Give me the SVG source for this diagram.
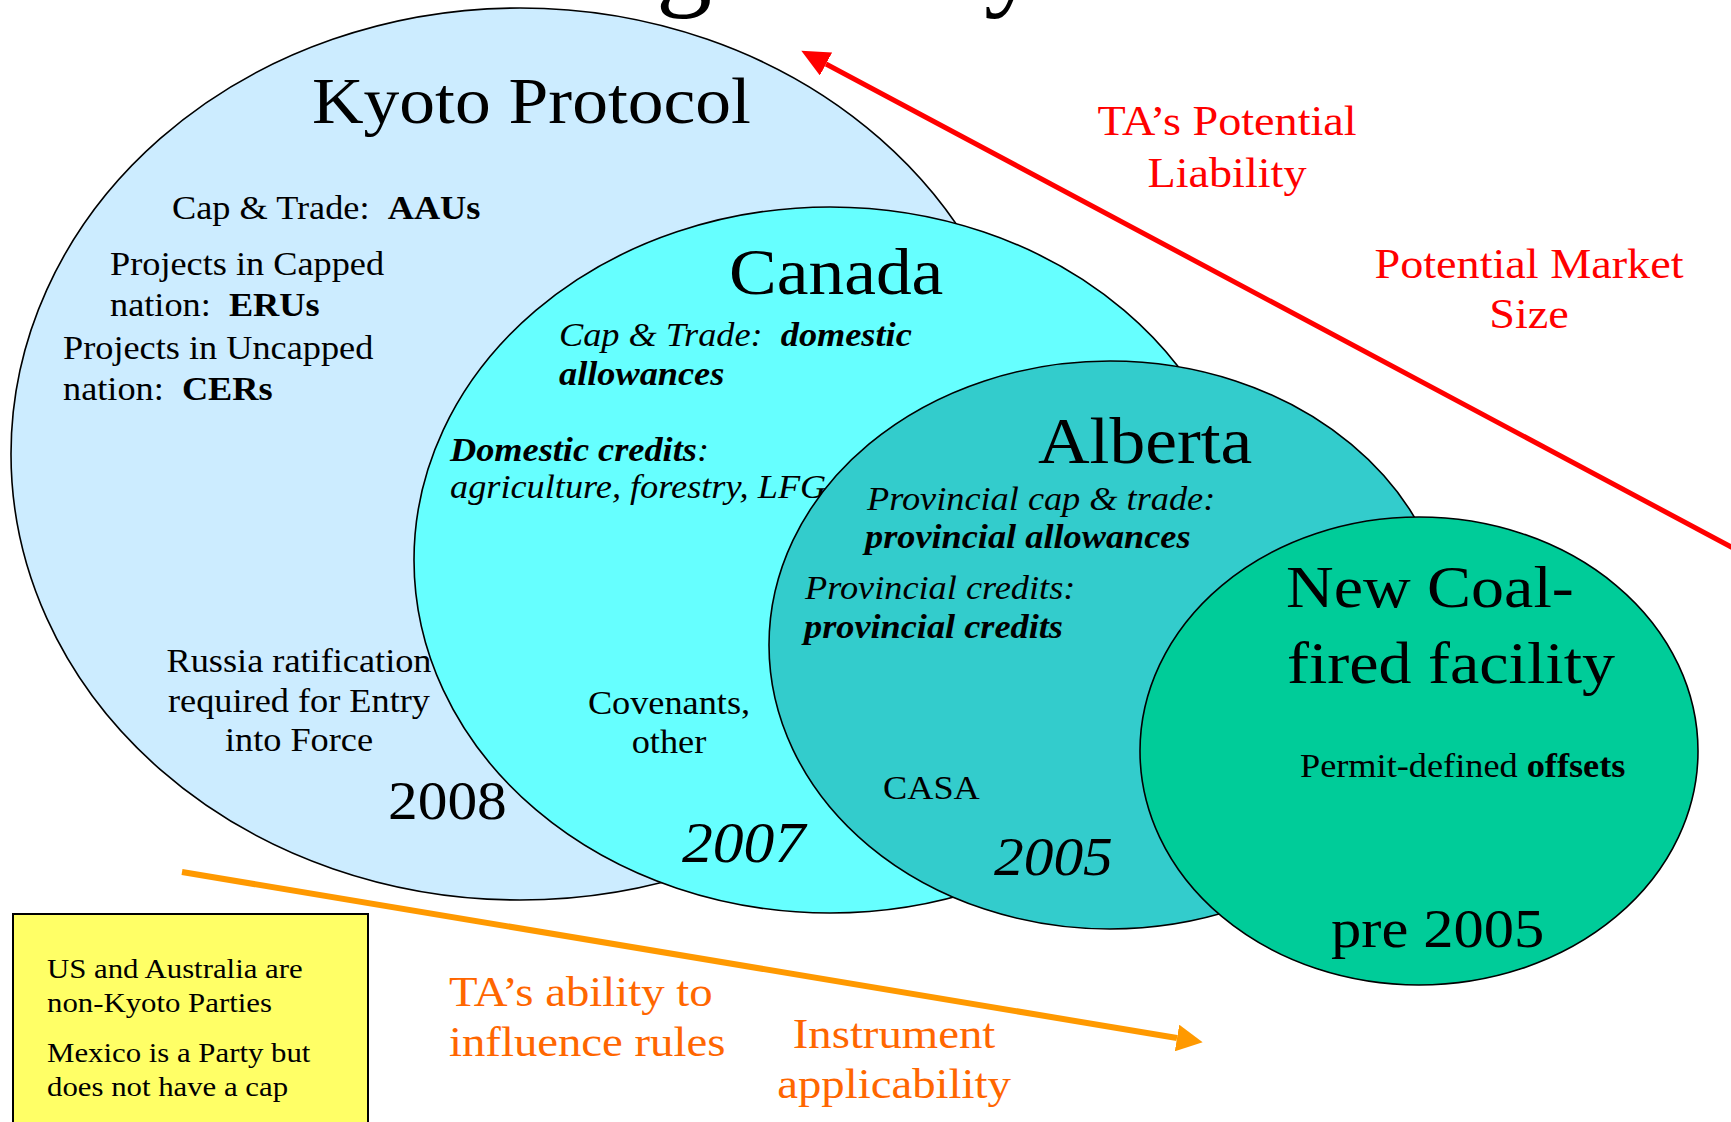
<svg xmlns="http://www.w3.org/2000/svg" width="1731" height="1122" viewBox="0 0 1731 1122">
  <style>
    text { font-family: "Liberation Serif", "Times New Roman", serif; fill: #000; }
    .node { stroke: #000; stroke-width: 1.6; }
    .kyoto { fill: #CCECFF; }
    .canada { fill: #66FFFF; }
    .alberta { fill: #33CCCC; }
    .coal { fill: #00CC99; }
    .note { fill: #FFFF66; stroke: #000; stroke-width: 2; }
    .title { font-size: 112px; }
    .big { font-size: 65px; }
    .coalh { font-size: 60px; }
    .s { font-size: 33px; }
    .n { font-size: 28px; }
    .yr { font-size: 54px; }
    .i { font-style: italic; }
    .b { font-weight: bold; }
    .mid { text-anchor: middle; }
    .red { fill: #FF0000; font-size: 42px; }
    .orange { fill: #FF6600; font-size: 42.5px; }
    .redline { stroke: #FF0000; stroke-width: 5; fill: none; }
    .orangeline { stroke: #FF9900; stroke-width: 6; fill: none; }
  </style>
  <defs>
    <marker id="headRed" viewBox="0 0 28 26" refX="0" refY="13" markerWidth="28" markerHeight="26" markerUnits="userSpaceOnUse" orient="auto">
      <path d="M0,0 L28,13 L0,26 Z" fill="#FF0000"/>
    </marker>
    <marker id="headOrange" viewBox="0 0 26 27" refX="0" refY="13.5" markerWidth="26" markerHeight="27" markerUnits="userSpaceOnUse" orient="auto">
      <path d="M0,0 L26,13.5 L0,27 Z" fill="#FF9900"/>
    </marker>
  </defs>

  <!-- heading descenders along the top edge -->
  <g id="heading">
    <text class="title" x="656" y="-5">g</text>
    <text class="title" x="984" y="-5">y</text>
  </g>

  <!-- Kyoto Protocol -->
  <g id="kyoto">
    <ellipse class="node kyoto" cx="520" cy="454" rx="509" ry="446"/>
    <text class="big" transform="matrix(1.1 0 0 1 312 123)">Kyoto Protocol</text>
    <text class="s" transform="matrix(1.1 0 0 1 172 219)">Cap &amp; Trade:&#160; <tspan class="b">AAUs</tspan></text>
    <text class="s" transform="matrix(1.1 0 0 1 110 275)">Projects in Capped</text>
    <text class="s" transform="matrix(1.1 0 0 1 110 316)">nation:&#160; <tspan class="b">ERUs</tspan></text>
    <text class="s" transform="matrix(1.1 0 0 1 63 359)">Projects in Uncapped</text>
    <text class="s" transform="matrix(1.1 0 0 1 63 400)">nation:&#160; <tspan class="b">CERs</tspan></text>
    <text class="s mid" transform="matrix(1.1 0 0 1 299 672)">Russia ratification</text>
    <text class="s mid" transform="matrix(1.1 0 0 1 299 712)">required for Entry</text>
    <text class="s mid" transform="matrix(1.1 0 0 1 299 751)">into Force</text>
    <text class="yr" transform="matrix(1.1 0 0 1 388 819)">2008</text>
  </g>

  <!-- Canada -->
  <g id="canada">
    <ellipse class="node canada" cx="830" cy="560" rx="416" ry="353"/>
    <text class="big" transform="matrix(1.1 0 0 1 729 294)">Canada</text>
    <text class="s i" transform="matrix(1.1 0 0 1 559 346)">Cap &amp; Trade:&#160; <tspan class="b">domestic</tspan></text>
    <text class="s i b" transform="matrix(1.1 0 0 1 559 385)">allowances</text>
    <text class="s i" transform="matrix(1.1 0 0 1 450 461)"><tspan class="b">Domestic credits</tspan>:</text>
    <text class="s i" transform="matrix(1.1 0 0 1 450 498)">agriculture, forestry, LFG</text>
    <text class="s mid" transform="matrix(1.1 0 0 1 669 714)">Covenants,</text>
    <text class="s mid" transform="matrix(1.1 0 0 1 669 753)">other</text>
    <text class="yr i" style="font-size:56px" transform="matrix(1.1 0 0 1 682 862)">2007</text>
  </g>

  <!-- Alberta -->
  <g id="alberta">
    <ellipse class="node alberta" cx="1110" cy="645" rx="341" ry="284"/>
    <text class="big" transform="matrix(1.1 0 0 1 1038 463)">Alberta</text>
    <text class="s i" transform="matrix(1.1 0 0 1 867 510)">Provincial cap &amp; trade:</text>
    <text class="s i b" transform="matrix(1.1 0 0 1 865 548)">provincial allowances</text>
    <text class="s i" transform="matrix(1.1 0 0 1 805 599)">Provincial credits:</text>
    <text class="s i b" transform="matrix(1.1 0 0 1 804 638)">provincial credits</text>
    <text class="s" transform="matrix(1.1 0 0 1 883 799)">CASA</text>
    <text class="yr i" transform="matrix(1.1 0 0 1 994 875)">2005</text>
  </g>

  <!-- New coal-fired facility -->
  <g id="coal">
    <ellipse class="node coal" cx="1419" cy="751" rx="279" ry="234"/>
    <text class="coalh" transform="matrix(1.1 0 0 1 1286 607)">New Coal-</text>
    <text class="coalh" transform="matrix(1.1 0 0 1 1287 683)">fired facility</text>
    <text class="s" transform="matrix(1.1 0 0 1 1300 777)">Permit-defined <tspan class="b">offsets</tspan></text>
    <text class="yr" style="font-size:55px" transform="matrix(1.1 0 0 1 1331 947)">pre 2005</text>
  </g>

  <!-- note box -->
  <g id="note">
    <rect class="note" x="13" y="914" width="355" height="230"/>
    <text class="n" transform="matrix(1.1 0 0 1 47 978)">US and Australia are</text>
    <text class="n" transform="matrix(1.1 0 0 1 47 1012)">non-Kyoto Parties</text>
    <text class="n" transform="matrix(1.1 0 0 1 47 1062)">Mexico is a Party but</text>
    <text class="n" transform="matrix(1.1 0 0 1 47 1096)">does not have a cap</text>
  </g>

  <!-- trend arrows -->
  <g id="connectors">
    <line class="redline" x1="1765" y1="565" x2="826" y2="64" marker-end="url(#headRed)"/>
    <line class="orangeline" x1="182" y1="872" x2="1177" y2="1038" marker-end="url(#headOrange)"/>
  </g>

  <!-- arrow labels -->
  <g id="labels">
    <text class="red mid" transform="matrix(1.1 0 0 1 1227 135)">TA’s Potential</text>
    <text class="red mid" transform="matrix(1.1 0 0 1 1227 187)">Liability</text>
    <text class="red mid" transform="matrix(1.1 0 0 1 1529 278)">Potential Market</text>
    <text class="red mid" transform="matrix(1.1 0 0 1 1529 328)">Size</text>
    <text class="orange" transform="matrix(1.1 0 0 1 449 1006)">TA’s ability to</text>
    <text class="orange" transform="matrix(1.1 0 0 1 449 1056)">influence rules</text>
    <text class="orange mid" transform="matrix(1.1 0 0 1 894 1048)">Instrument</text>
    <text class="orange mid" transform="matrix(1.1 0 0 1 894 1098)">applicability</text>
  </g>
</svg>
